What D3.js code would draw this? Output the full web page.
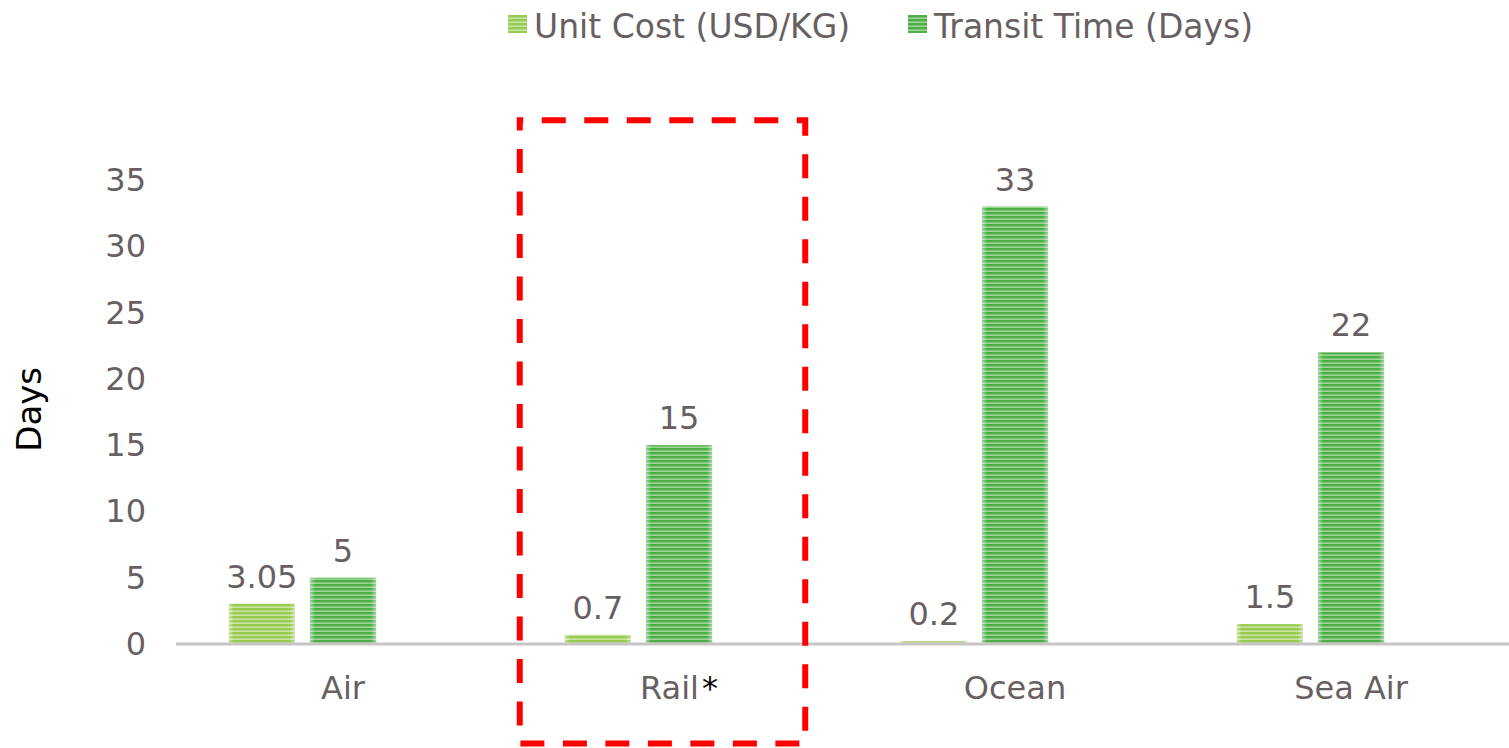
<!DOCTYPE html>
<html lang="en">
<head>
  <meta charset="UTF-8">
  <title>Unit Cost vs Transit Time</title>
  <script src="https://d3js.org/d3.v7.min.js"></script>
  <style>
    body { margin: 0; background: #fff; }
    text { font-family: "DejaVu Sans", Verdana, sans-serif; }
    .tick-label, .cat-label, .value-label, .legend-text { fill: #685f62; font-size: 32px; }
    .legend-text { font-size: 33px; }
  </style>
</head>
<body>
  <svg width="1509" height="748"></svg>

  <script>
    // chart data
    const categories = ["Air", "Rail", "Ocean", "Sea Air"];
    const unitCost = [3.05, 0.7, 0.2, 1.5];
    const transitTime = [5, 15, 33, 22];
    const yTicks = [0, 5, 10, 15, 20, 25, 30, 35];
    const seriesNames = ["Unit Cost (USD/KG)", "Transit Time (Days)"];

    const svg = d3.select("svg");
    const width = +svg.attr("width");
    const height = +svg.attr("height");

    const rows = categories.map((c, i) => ({ cat: c, cost: unitCost[i], time: transitTime[i] }));

    // striped fills
    const defs = svg.append("defs");
    function stripes(id, base, light) {
      const p = defs.append("pattern")
        .attr("id", id)
        .attr("patternUnits", "userSpaceOnUse")
        .attr("width", 4).attr("height", 4);
      p.append("rect").attr("width", 4).attr("height", 4).attr("fill", base);
      p.append("rect").attr("y", 2.4).attr("width", 4).attr("height", 1.6).attr("fill", light);
    }
    stripes("costFill", "#97ca50", "#cae59f");
    stripes("timeFill", "#4dae47", "#9dd494");

    // soft side edges on bars
    const edge = defs.append("linearGradient").attr("id", "edgeShade");
    [[0, 0.45], [0.08, 0], [0.92, 0], [1, 0.45]].forEach(([o, a]) =>
      edge.append("stop").attr("offset", o).attr("stop-color", "#fff").attr("stop-opacity", a));

    const x0 = d3.scaleBand()
      .domain(categories)
      .range([175, 1519])
      .paddingInner(0.32)
      .paddingOuter(0.16);

    // third slot stays empty, as in the source
    const x1 = d3.scaleBand()
      .domain(["cost", "time", "blank"])
      .range([0, x0.bandwidth()])
      .paddingInner(0.185);

    const y = d3.scaleLinear()
      .domain([0, 35])
      .range([644, 180]);

    // y tick labels
    svg.append("g")
      .selectAll("text")
      .data(yTicks)
      .join("text")
      .attr("class", "tick-label")
      .attr("x", 146)
      .attr("y", d => y(d) + 11)
      .attr("text-anchor", "end")
      .text(d => d);

    // y axis title
    svg.append("text")
      .attr("transform", `translate(41, ${y(17.7)}) rotate(-90)`)
      .attr("text-anchor", "middle")
      .attr("font-size", 34)
      .attr("fill", "#000")
      .text("Days");

    const fills = { cost: "url(#costFill)", time: "url(#timeFill)" };
    const bars = [];
    rows.forEach(r => {
      ["cost", "time"].forEach(k => bars.push({ cat: r.cat, key: k, value: r[k] }));
    });

    const barG = svg.append("g");
    barG.selectAll("rect.bar")
      .data(bars)
      .join("rect")
      .attr("class", "bar")
      .attr("x", d => x0(d.cat) + x1(d.key))
      .attr("y", d => y(d.value))
      .attr("width", x1.bandwidth())
      .attr("height", d => y(0) - y(d.value))
      .attr("fill", d => fills[d.key]);

    barG.selectAll("rect.shade")
      .data(bars)
      .join("rect")
      .attr("class", "shade")
      .attr("x", d => x0(d.cat) + x1(d.key))
      .attr("y", d => y(d.value))
      .attr("width", x1.bandwidth())
      .attr("height", d => y(0) - y(d.value))
      .attr("fill", "url(#edgeShade)");

    // value labels
    svg.append("g")
      .selectAll("text")
      .data(bars)
      .join("text")
      .attr("class", "value-label")
      .attr("x", d => x0(d.cat) + x1(d.key) + x1.bandwidth() / 2)
      .attr("y", d => y(d.value) - 16)
      .attr("text-anchor", "middle")
      .text(d => d.value);

    // baseline
    svg.append("line")
      .attr("x1", 176).attr("x2", width)
      .attr("y1", y(0)).attr("y2", y(0))
      .attr("stroke", "#c9c4c5")
      .attr("stroke-width", 3);

    // category labels
    const catG = svg.append("g")
      .selectAll("text")
      .data(categories)
      .join("text")
      .attr("class", "cat-label")
      .attr("x", d => x0(d) + x0.bandwidth() / 2)
      .attr("y", 699)
      .attr("text-anchor", "middle")
      .text(d => d);
    catG.filter(d => d === "Rail")
      .append("tspan")
      .attr("fill", "#000")
      .attr("dx", 3)
      .text("*");

    // legend
    const legendItems = [
      { name: seriesNames[0], fill: "url(#costFill)", x: 508 },
      { name: seriesNames[1], fill: "url(#timeFill)", x: 908 }
    ];
    const lg = svg.append("g")
      .selectAll("g")
      .data(legendItems)
      .join("g")
      .attr("transform", d => `translate(${d.x}, 15)`);
    lg.append("rect")
      .attr("width", 19).attr("height", 18)
      .attr("fill", d => d.fill);
    lg.append("text")
      .attr("class", "legend-text")
      .attr("x", 26)
      .attr("y", 23)
      .text(d => d.name);

    // highlight box around Rail
    const bx = x0("Rail") - 45;
    const bw = x0.bandwidth() + 57;
    svg.append("rect")
      .attr("x", bx)
      .attr("y", y(39.5))
      .attr("width", bw)
      .attr("height", 743.5 - y(39.5))
      .attr("fill", "none")
      .attr("stroke", "#ff0000")
      .attr("stroke-width", 6)
      .attr("stroke-dasharray", "24 18.5")
      .attr("stroke-dashoffset", -22);
  </script>
</body>
</html>
